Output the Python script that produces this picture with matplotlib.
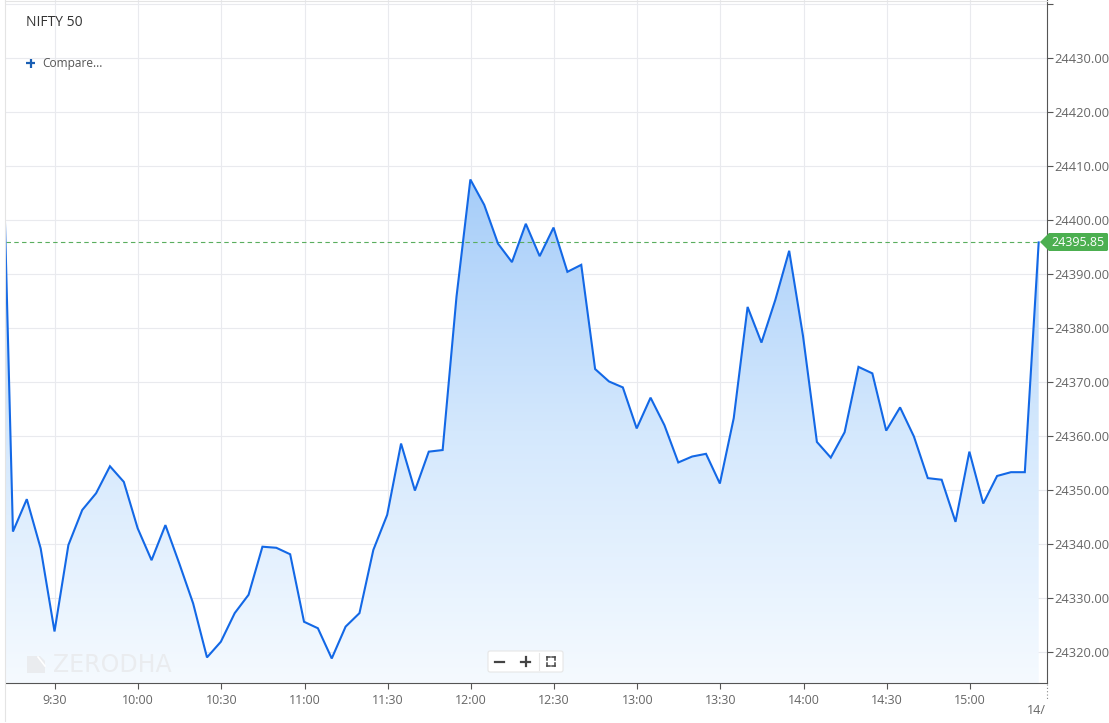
import matplotlib
matplotlib.use("Agg")
import matplotlib.pyplot as plt
import numpy as np
from matplotlib.patches import Polygon, FancyBboxPatch
from matplotlib.colors import LinearSegmentedColormap

# ---------------- data ----------------
times = ["9:10", "9:15", "9:20", "9:25", "9:30", "9:35", "9:40", "9:45", "9:50", "9:55",
         "10:00", "10:05", "10:10", "10:15", "10:20", "10:25", "10:30", "10:35", "10:40", "10:45",
         "10:50", "10:55", "11:00", "11:05", "11:10", "11:15", "11:20", "11:25", "11:30", "11:35",
         "11:40", "11:45", "11:50", "11:55", "12:00", "12:05", "12:10", "12:15", "12:20", "12:25",
         "12:30", "12:35", "12:40", "12:45", "12:50", "12:55", "13:00", "13:05", "13:10", "13:15",
         "13:20", "13:25", "13:30", "13:35", "13:40", "13:45", "13:50", "13:55", "14:00", "14:05",
         "14:10", "14:15", "14:20", "14:25", "14:30", "14:35", "14:40", "14:45", "14:50", "14:55",
         "15:00", "15:05", "15:10", "15:15", "15:20", "15:25"]
prices = [24442.0, 24342.3, 24348.3, 24339.2, 24323.8, 24339.8, 24346.3, 24349.4, 24354.4, 24351.5,
          24342.9, 24337.0, 24343.5, 24336.4, 24329.0, 24319.0, 24321.9, 24327.2, 24330.6, 24339.5,
          24339.3, 24338.1, 24325.6, 24324.4, 24318.8, 24324.7, 24327.2, 24338.9, 24345.4, 24358.6,
          24349.9, 24357.1, 24357.4, 24385.8, 24407.5, 24402.8, 24395.6, 24392.2, 24399.3, 24393.3,
          24398.6, 24390.4, 24391.7, 24372.4, 24370.1, 24369.0, 24361.4, 24367.1, 24362.0, 24355.1,
          24356.2, 24356.7, 24351.2, 24363.3, 24383.9, 24377.3, 24385.2, 24394.3, 24378.5, 24358.9,
          24356.0, 24360.7, 24372.8, 24371.6, 24361.0, 24365.3, 24359.9, 24352.2, 24351.9, 24344.1,
          24357.1, 24347.5, 24352.6, 24353.3, 24353.3, 24395.85]
last_price = 24395.85
x_tick_labels = ["9:30", "10:00", "10:30", "11:00", "11:30", "12:00", "12:30", "13:00",
                 "13:30", "14:00", "14:30", "15:00"]
y_ticks = [24320, 24330, 24340, 24350, 24360, 24370, 24380, 24390, 24400, 24410, 24420, 24430, 24440]
title = "NIFTY 50"


def to_min(t):
    h, m = t.split(":")
    return int(h) * 60 + int(m)


x = np.array([to_min(t) - 0.2 for t in times], dtype=float)
y = np.array(prices)
xt = [to_min(t) for t in x_tick_labels]

W, H = 1109, 723
fig = plt.figure(figsize=(W / 100, H / 100), dpi=100)
plt.rcParams['font.family'] = ['Open Sans', 'DejaVu Sans']

ax_l, ax_r, ax_b, ax_t = 6, 1047, 683, 0
ax = fig.add_axes([ax_l / W, 1 - ax_b / H, (ax_r - ax_l) / W, (ax_b - ax_t) / H])
xmin, xmax = 552.3, 927.8
ymin, ymax = 24314.26, 24440.74

# grid
for v in xt:
    ax.axvline(v, color="#e9eaee", lw=0.8, zorder=0)
for v in y_ticks:
    ax.axhline(v, color="#e9eaee", lw=0.8, zorder=0)

# gradient fill under line
cmap = LinearSegmentedColormap.from_list("g", ["#f5faff", "#d4e8fd", "#a6cdf9"])
ytop = max(y[1:])
grad = np.linspace(0, 1, 256).reshape(-1, 1)
im = ax.imshow(grad, extent=[xmin, xmax, ymin, ytop], origin="lower", aspect="auto",
               cmap=cmap, zorder=1, interpolation="bilinear")
verts = np.vstack([np.column_stack([x, y]), [[x[-1], ymin], [x[0], ymin]]])
poly = Polygon(verts, closed=True, facecolor="none", edgecolor="none", transform=ax.transData)
ax.add_patch(poly)
im.set_clip_path(poly)

ax.plot(x, y, color="#1368e6", lw=1.5, zorder=3, solid_joinstyle="miter")

# last price dashed line
ax.axhline(last_price, color="#5aae5e", lw=0.8, ls=(0, (4, 3)), zorder=2)

ax.set_xlim(xmin, xmax)
ax.set_ylim(ymin, ymax)

# axes styling
for s in ["top", "left"]:
    ax.spines[s].set_visible(False)
ax.spines["right"].set_color("#555555")
ax.spines["bottom"].set_color("#555555")
ax.yaxis.tick_right()
ax.set_yticks(y_ticks)
ax.set_yticklabels([f"{v:.2f}" if v < 24440 else "" for v in y_ticks])
ax.set_xticks(xt)
ax.set_xticklabels(x_tick_labels)
ax.tick_params(axis="y", colors="#555555", labelcolor="#666666", labelsize=9.3, length=4, pad=1.5, width=0.8)
ax.tick_params(axis="x", colors="#555555", labelcolor="#666666", labelsize=9, length=4, pad=4, width=0.8)

# overlay axes in pixel coordinates for decorations
ov = fig.add_axes([0, 0, 1, 1], zorder=10)
ov.set_xlim(0, W)
ov.set_ylim(H, 0)
ov.axis("off")

# container border
ov.plot([4.5, 4.5], [0, 721], color="#e4e4e4", lw=0.8)
ov.plot([5, 1047], [1, 1], color="#e4e4e4", lw=0.8)

ov.text(26, 22, title, fontsize=10, color="#333333", va="center", ha="left")
ov.plot([26, 35], [63, 63], color="#1a5fb4", lw=1.6, solid_capstyle="butt")
ov.plot([30.5, 30.5], [58.5, 67.5], color="#1a5fb4", lw=1.6, solid_capstyle="butt")
ov.text(42, 63, "Compare...", fontsize=8.6, color="#555555", va="center", ha="left")

# price tag
tag = Polygon([[1040, 242], [1049, 233], [1107, 233], [1108, 234], [1108, 250], [1107, 251],
               [1049, 251]], closed=True, facecolor="#4caf50", edgecolor="none")
ov.add_patch(tag)
ov.text(1078, 242, f"{last_price:.2f}", fontsize=9, color="white", va="center", ha="center")

# date label at right edge
ov.plot([1047, 1047], [684, 700], color="#888888", lw=0.8, ls=(0, (1, 2)))
ov.text(1046, 711, "14/", fontsize=9, color="#666666", va="center", ha="right")

# watermark
ov.add_patch(Polygon([[27, 656], [40, 656], [45, 661], [45, 673], [27, 673]], closed=True,
                     facecolor="#eaecef", edgecolor="none", zorder=0))
ov.plot([38, 45], [657, 666], color="white", lw=1.2)
ov.text(53, 665, "ZERODHA", fontsize=17, color="#eaecef", va="center", ha="left",
        family="DejaVu Sans")

# zoom controls
box = FancyBboxPatch((488, 651), 75, 21, boxstyle="round,pad=0,rounding_size=2",
                     facecolor="white", edgecolor="#e6e6e6", lw=0.8)
ov.add_patch(box)
ov.plot([495, 504], [661.5, 661.5], color="#444444", lw=1.6)
ov.plot([521, 530], [661.5, 661.5], color="#444444", lw=1.6)
ov.plot([525.5, 525.5], [657, 666], color="#444444", lw=1.6)
ov.plot([539, 539], [653, 670], color="#e6e6e6", lw=0.8)
for (cx, cy, dx, dy) in [(547, 657, 1, 1), (555, 657, -1, 1), (547, 666, 1, -1), (555, 666, -1, -1)]:
    ov.plot([cx, cx + 3 * dx], [cy, cy], color="#444444", lw=1.1)
    ov.plot([cx, cx], [cy, cy + 3 * dy], color="#444444", lw=1.1)

fig.savefig("out.png", dpi=100)
